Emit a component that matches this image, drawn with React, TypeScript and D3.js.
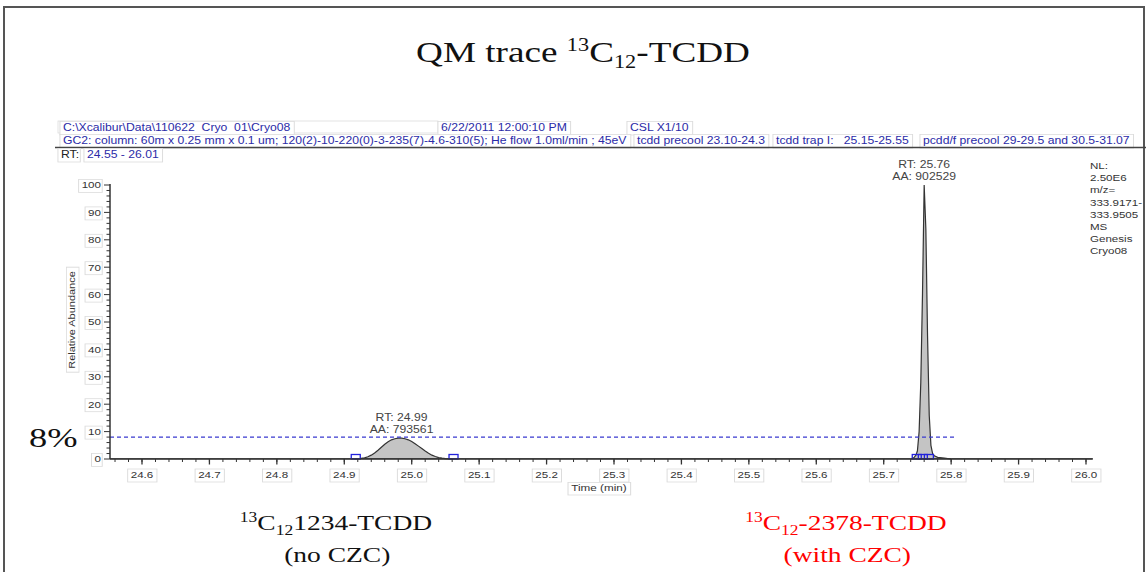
import * as d3 from "d3";

// chromatogram: detected peak 1 (13C12-1234-TCDD, no CZC)
const peakOneTimes = [
  24.915, 24.92, 24.925, 24.93, 24.935, 24.94, 24.945, 24.95, 24.955, 24.96,
  24.965, 24.97, 24.975, 24.98, 24.985, 24.99, 24.995, 25.0, 25.005, 25.01,
  25.015, 25.02, 25.025, 25.03, 25.035, 25.04, 25.045, 25.05, 25.055, 25.06,
];
const peakOneValues = [
  0, 0.1, 0.2, 0.4, 0.8, 1.4, 2.2, 3.2, 4.3, 5.4,
  6.3, 7.0, 7.4, 7.6, 7.6, 7.4, 7.0, 6.4, 5.6, 4.7,
  3.8, 2.9, 2.1, 1.4, 0.9, 0.5, 0.3, 0.15, 0.05, 0,
];

// detected peak 2 (13C12-2378-TCDD, with CZC)
const peakTwoTimes = [
  25.74, 25.745, 25.748, 25.75, 25.7525, 25.755, 25.7575, 25.76, 25.7625,
  25.765, 25.7675, 25.77, 25.7725, 25.775, 25.78, 25.79, 25.8,
];
const peakTwoValues = [
  0, 0.5, 1.5, 3, 10, 28, 60, 100, 84, 45, 16, 5, 2, 1.2, 0.6, 0.3, 0,
];

// flat baseline of the rest of the trace
const baselineTimes = [24.5525, 24.915, 25.06, 25.74, 25.8, 26.01];
const baselineValues = [0.1, 0.1, 0.1, 0.1, 0.1, 0.1];

const peakLabels = [
  { rt: "RT: 24.99", aa: "AA: 793561", time: 24.985, top: 7.6 },
  { rt: "RT: 25.76", aa: "AA: 902529", time: 25.76, top: 100 },
];
const markerTimes = [24.917, 25.062, 25.749, 25.758, 25.767];

const xTickLabels = [
  "24.6", "24.7", "24.8", "24.9", "25.0", "25.1", "25.2", "25.3",
  "25.4", "25.5", "25.6", "25.7", "25.8", "25.9", "26.0",
];
const yTickLabels = [0, 10, 20, 30, 40, 50, 60, 70, 80, 90, 100];
const thresholdPct = 8;

const infoLines = [
  "NL:", "2.50E6", "m/z=", "333.9171-", "333.9505", "MS", "Genesis", "Cryo08",
];

const SANS = "'Liberation Sans', Arial, sans-serif";
const SERIF = "'Liberation Serif', 'Times New Roman', serif";
const BLUE = "#2b2ba8";
// the slide was stretched sideways, so all lettering is wider than the font
const STRETCH = 1.22;

const canvasCtx =
  typeof document !== "undefined"
    ? document.createElement("canvas").getContext("2d")
    : null;

function measure(text: string, size: number) {
  if (!canvasCtx) return text.length * size * 0.55;
  canvasCtx.font = `${size}px 'Liberation Sans'`;
  return canvasCtx.measureText(text).width;
}

const widen = (x: number, s = STRETCH) => `translate(${x} 0) scale(${s} 1) translate(${-x} 0)`;

function BoxText({
  x,
  y,
  text,
  anchor = "start",
  color = "#333",
  size = 10,
  padRight = 3,
  stretch = STRETCH,
}: {
  x: number;
  y: number;
  text: string;
  anchor?: "start" | "middle" | "end";
  color?: string;
  size?: number;
  padRight?: number;
  stretch?: number;
}) {
  const w = measure(text, size);
  const x0 = anchor === "start" ? x : anchor === "middle" ? x - w / 2 : x - w;
  return (
    <g transform={widen(x, stretch)}>
      <rect
        x={x0 - 2.5}
        y={y - size + 0.5}
        width={w + 2.5 + padRight}
        height={size + 3.5}
        fill="#fff"
        stroke="#dcdcdc"
        strokeWidth={0.8}
      />
      <text
        x={x}
        y={y}
        textAnchor={anchor}
        fontFamily={SANS}
        fontSize={size}
        fill={color}
        style={{ whiteSpace: "pre" }}
      >
        {text}
      </text>
    </g>
  );
}

export default function App() {
  const width = 1146;
  const height = 572;

  const x = d3.scaleLinear().domain([24.6, 26.0]).range([142, 1086]);
  const y = d3.scaleLinear().domain([0, 100]).range([459, 185]);

  const xEnd = 26.01;

  const toPoints = (ts: number[], vs: number[]) => ts.map((t, i) => [t, vs[i]] as [number, number]);
  const line = d3
    .line<[number, number]>()
    .x((d) => x(d[0]))
    .y((d) => y(d[1]));
  const area = d3
    .area<[number, number]>()
    .x((d) => x(d[0]))
    .y0(y(0))
    .y1((d) => y(d[1]));

  const peakOne = toPoints(peakOneTimes, peakOneValues);
  const peakTwo = toPoints(peakTwoTimes, peakTwoValues);
  const baseline = toPoints(baselineTimes, baselineValues);

  const xMinor = d3.range(24.56, 26.011, 0.02);
  const yMinor = d3.range(0, 100.1, 2);

  return (
    <svg
      width={width}
      height={height}
      style={{ position: "absolute", left: 0, top: 0, background: "#fff" }}
    >
      <rect x={4} y={7} width={1140} height={580} fill="#fff" stroke="#555" strokeWidth={2} />

      {/* slide title */}
      <g transform={widen(583, 1.24)}>
        <text x={583} y={62} textAnchor="middle" fontFamily={SERIF} fontSize={30} fill="#111">
          <tspan>QM trace </tspan>
          <tspan fontSize={18} dy={-11}>13</tspan>
          <tspan dy={11}>C</tspan>
          <tspan fontSize={18} dy={6}>12</tspan>
          <tspan dy={-6}>-TCDD</tspan>
        </text>
      </g>

      {/* Xcalibur header */}
      <rect x={58} y={121} width={380} height={12} fill="#fff" stroke="#dcdcdc" strokeWidth={0.8} />
      <BoxText x={63} y={131} text={"C:\\Xcalibur\\Data\\110622  Cryo  01\\Cryo08"} color={BLUE} />
      <BoxText x={441} y={131} text="6/22/2011 12:00:10 PM" color={BLUE} />
      <BoxText x={630} y={131} text="CSL X1/10" color={BLUE} />
      <BoxText
        x={63}
        y={144}
        text="GC2: column: 60m x 0.25 mm x 0.1 um; 120(2)-10-220(0)-3-235(7)-4.6-310(5); He flow 1.0ml/min ; 45eV"
        color={BLUE}
      />
      <BoxText x={637} y={144} text="tcdd precool 23.10-24.3" color={BLUE} />
      <BoxText x={776} y={144} text="tcdd trap I:   25.15-25.55" color={BLUE} />
      <BoxText x={923} y={144} text="pcdd/f precool 29-29.5 and 30.5-31.07" color={BLUE} />
      <line x1={55} x2={1146} y1={147.5} y2={147.5} stroke="#444" strokeWidth={1.5} />
      <BoxText x={61} y={158} text="RT:" color="#222" padRight={1} />
      <BoxText x={87} y={158} text="24.55 - 26.01" color={BLUE} />

      {/* info panel */}
      {infoLines.map((t, i) => (
        <g key={t} transform={widen(1090)}>
          <text x={1090} y={169 + i * 12.2} fontFamily={SANS} fontSize={9.5} fill="#333">
            {t}
          </text>
        </g>
      ))}

      {/* trace */}
      <path d={area(peakOne) ?? ""} fill="#c4c4c4" />
      <path d={area(peakTwo) ?? ""} fill="#c4c4c4" />
      <path d={line(baseline) ?? ""} fill="none" stroke="#333" strokeWidth={1} />
      <path d={line(peakOne) ?? ""} fill="none" stroke="#333" strokeWidth={1.2} />
      <path d={line(peakTwo) ?? ""} fill="none" stroke="#333" strokeWidth={1.2} />

      {markerTimes.map((t) => (
        <rect
          key={t}
          x={x(t) - 4.5}
          y={y(0) - 4.5}
          width={9}
          height={4.5}
          fill="none"
          stroke="#2222dd"
          strokeWidth={1.3}
        />
      ))}

      {peakLabels.map((p) => (
        <g key={p.rt} transform={widen(x(p.time))}>
          <text x={x(p.time)} y={y(p.top) - 17} textAnchor="middle" fontFamily={SANS} fontSize={10} fill="#444">
            {p.rt}
          </text>
          <text x={x(p.time)} y={y(p.top) - 5} textAnchor="middle" fontFamily={SANS} fontSize={10} fill="#444">
            {p.aa}
          </text>
        </g>
      ))}

      {/* 8% threshold */}
      <line
        x1={110}
        x2={955}
        y1={y(thresholdPct)}
        y2={y(thresholdPct)}
        stroke="#3a3ad0"
        strokeWidth={1.3}
        strokeDasharray="4 3"
      />
      <g transform={widen(29, 1.3)}>
        <text x={29} y={y(thresholdPct) + 10} fontFamily={SERIF} fontSize={28} fill="#111">
          {thresholdPct}%
        </text>
      </g>

      {/* y axis */}
      <line x1={110} x2={110} y1={y(0)} y2={y(100) - 1} stroke="#333" strokeWidth={1.5} />
      {yMinor.map((v) => (
        <line key={`ym-${v}`} x1={110} x2={v % 10 === 0 ? 104 : 106.5} y1={y(v)} y2={y(v)} stroke="#333" strokeWidth={1} />
      ))}
      {yTickLabels.map((v) => (
        <BoxText key={`yl-${v}`} x={101} y={y(v) + 3.5} text={String(v)} anchor="end" size={9.5} padRight={1} />
      ))}
      <g transform="translate(75, 320) rotate(-90)">
        <BoxText x={0} y={0} text="Relative Abundance" anchor="middle" size={9} />
      </g>

      {/* x axis */}
      <line x1={110} x2={x(xEnd)} y1={y(0)} y2={y(0)} stroke="#333" strokeWidth={1.5} />
      {xMinor.map((v) => (
        <line
          key={`xm-${v.toFixed(2)}`}
          x1={x(v)}
          x2={x(v)}
          y1={y(0)}
          y2={y(0) + 3}
          stroke="#333"
          strokeWidth={1}
        />
      ))}
      {xTickLabels.map((t) => (
        <g key={`xl-${t}`}>
          <line x1={x(+t)} x2={x(+t)} y1={y(0)} y2={y(0) + 5.5} stroke="#333" strokeWidth={1.3} />
          <BoxText x={x(+t)} y={478} text={t} anchor="middle" size={9.5} />
        </g>
      ))}
      <BoxText x={599} y={491} text="Time (min)" anchor="middle" size={9} stretch={1.3} />

      {/* compound captions */}
      <g transform={widen(336, 1.25)}>
        <text x={336} y={530} textAnchor="middle" fontFamily={SERIF} fontSize={22} fill="#111">
          <tspan fontSize={14} dy={-8}>13</tspan>
          <tspan dy={8}>C</tspan>
          <tspan fontSize={14} dy={5}>12</tspan>
          <tspan dy={-5}>1234-TCDD</tspan>
        </text>
        <text x={337} y={562} textAnchor="middle" fontFamily={SERIF} fontSize={22} fill="#111">
          (no CZC)
        </text>
      </g>
      <g transform={widen(846, 1.25)}>
        <text x={846} y={530} textAnchor="middle" fontFamily={SERIF} fontSize={22} fill="#ff0000">
          <tspan fontSize={14} dy={-8}>13</tspan>
          <tspan dy={8}>C</tspan>
          <tspan fontSize={14} dy={5}>12</tspan>
          <tspan dy={-5}>-2378-TCDD</tspan>
        </text>
        <text x={847} y={562} textAnchor="middle" fontFamily={SERIF} fontSize={22} fill="#ff0000">
          (with CZC)
        </text>
      </g>
    </svg>
  );
}
